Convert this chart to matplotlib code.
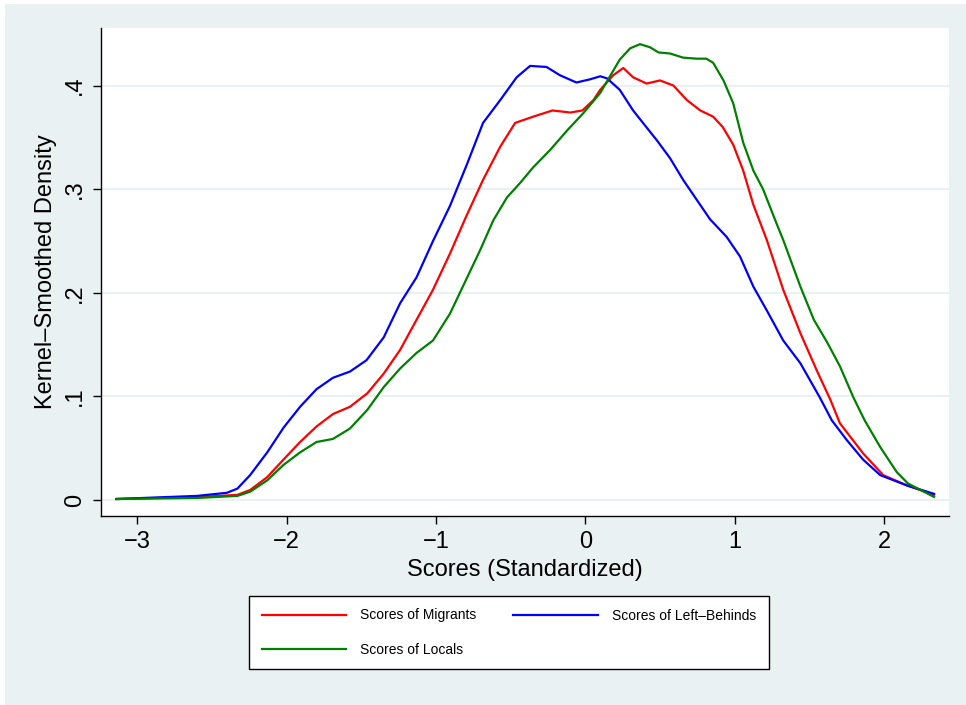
import matplotlib.pyplot as plt
from matplotlib.patches import Rectangle

# values
mig_x = [-3.14, -2.58, -2.33, -2.244, -2.131, -2.024, -1.91, -1.80, -1.69, -1.576, -1.46, -1.35, -1.24,
         -1.13, -1.02, -0.906, -0.80, -0.685, -0.57, -0.47, -0.35, -0.22, -0.10, -0.02, 0.054, 0.10,
         0.187, 0.254, 0.32, 0.41, 0.50, 0.59, 0.68, 0.77, 0.856, 0.92, 0.99, 1.057, 1.125, 1.215,
         1.325, 1.44, 1.55, 1.64, 1.705, 1.86, 1.995, 2.155, 2.335]
mig_y = [0.001, 0.003, 0.005, 0.0097, 0.022, 0.0386, 0.056, 0.071, 0.083, 0.090, 0.103, 0.122, 0.145,
         0.174, 0.203, 0.238, 0.273, 0.309, 0.341, 0.364, 0.370, 0.376, 0.374, 0.376, 0.386, 0.396,
         0.410, 0.417, 0.408, 0.402, 0.405, 0.400, 0.386, 0.376, 0.370, 0.360, 0.343, 0.318, 0.285, 0.251,
         0.203, 0.161, 0.125, 0.097, 0.074, 0.045, 0.024, 0.014, 0.005]

left_x = [-3.14, -2.6, -2.40, -2.33, -2.245, -2.13, -2.02, -1.91, -1.80, -1.69, -1.576, -1.465, -1.35,
          -1.24, -1.13, -1.02, -0.906, -0.79, -0.685, -0.57, -0.46, -0.37, -0.26, -0.17, -0.06, 0.03,
          0.10, 0.145, 0.23, 0.32, 0.386, 0.48, 0.567, 0.655, 0.745, 0.835, 0.946, 1.036, 1.125, 1.215,
          1.325, 1.44, 1.57, 1.65, 1.75, 1.86, 1.975, 2.155, 2.335]
left_y = [0.001, 0.004, 0.007, 0.011, 0.024, 0.046, 0.070, 0.090, 0.107, 0.118, 0.124, 0.135, 0.157,
          0.190, 0.215, 0.250, 0.284, 0.325, 0.364, 0.386, 0.408, 0.419, 0.418, 0.410, 0.403, 0.406,
          0.409, 0.407, 0.396, 0.376, 0.364, 0.347, 0.330, 0.309, 0.290, 0.271, 0.254, 0.235, 0.206, 0.183,
          0.154, 0.132, 0.099, 0.077, 0.058, 0.039, 0.024, 0.014, 0.006]

loc_x = [-3.14, -2.6, -2.33, -2.245, -2.13, -2.02, -1.91, -1.80, -1.69, -1.576, -1.46, -1.35, -1.24,
         -1.13, -1.02, -0.906, -0.705, -0.616, -0.525, -0.437, -0.35, -0.235, -0.12, -0.01, 0.10, 0.165,
         0.23, 0.30, 0.366, 0.433, 0.49, 0.567, 0.655, 0.745, 0.81, 0.856, 0.925, 0.99, 1.057, 1.125,
         1.19, 1.28, 1.325, 1.44, 1.53, 1.62, 1.705, 1.795, 1.87, 1.975, 2.085, 2.16, 2.335]
loc_y = [0.001, 0.002, 0.004, 0.008, 0.019, 0.034, 0.046, 0.056, 0.059, 0.069, 0.087, 0.109, 0.127,
         0.142, 0.154, 0.180, 0.241, 0.270, 0.292, 0.306, 0.321, 0.338, 0.357, 0.374, 0.393, 0.409,
         0.425, 0.436, 0.440, 0.437, 0.432, 0.431, 0.427, 0.426, 0.426, 0.422, 0.405, 0.383, 0.345, 0.318,
         0.300, 0.267, 0.251, 0.206, 0.174, 0.152, 0.129, 0.099, 0.077, 0.051, 0.027, 0.016, 0.003]

xticks = [-3, -2, -1, 0, 1, 2]
yticks = [0, 0.1, 0.2, 0.3, 0.4]
ytick_labels = ['0', '.1', '.2', '.3', '.4']

plt.rcParams['font.family'] = ['Liberation Sans', 'DejaVu Sans']

fig = plt.figure(figsize=(9.66, 7.05), dpi=100, facecolor='white')
bg = '#EAF1F3'
fig.patches.append(Rectangle((5 / 966, 0), 1, 701 / 705, transform=fig.transFigure,
                             facecolor=bg, edgecolor='none', zorder=-10))

ax = fig.add_axes([101 / 966, 189 / 705, 848 / 966, 488 / 705])
ax.set_facecolor('white')

ax.plot(mig_x, mig_y, color='#FF0000', lw=1.6, label='Scores of Migrants')
ax.plot(left_x, left_y, color='#0000FF', lw=1.6, label='Scores of Left\u2013Behinds')
ax.plot(loc_x, loc_y, color='#008000', lw=1.6, label='Scores of Locals')

ax.set_xlim(-3.243, 2.435)
ax.set_ylim(-0.0154, 0.4556)
ax.set_xticks(xticks)
ax.set_yticks(yticks)
ax.set_yticklabels(ytick_labels, rotation=90, va='center')
for t in yticks:
    ax.axhline(t, color=bg, lw=1.5, zorder=0)

for s in ['top', 'right']:
    ax.spines[s].set_visible(False)
for s in ['left', 'bottom']:
    ax.spines[s].set_linewidth(1.0)
ax.tick_params(axis='both', direction='out', length=6, width=1.0, labelsize=17, pad=5)

ax.set_xlabel('Scores (Standardized)', fontsize=17, labelpad=4)
ax.set_ylabel('Kernel\u2013Smoothed Density', fontsize=17, labelpad=5)

# keep the Stata order: Migrants, Left-Behinds in row 1, Locals in row 2
handles, labels = ax.get_legend_handles_labels()
order = [0, 2, 1]
leg = fig.legend([handles[i] for i in order], [labels[i] for i in order],
                 loc='upper left', bbox_to_anchor=(249 / 966, 1 - 596 / 705), ncol=2,
                 fontsize=10, handlelength=6.1, handletextpad=1.0, columnspacing=2.65,
                 borderpad=0.9, labelspacing=1.45, borderaxespad=0, frameon=True,
                 fancybox=False, edgecolor='black', framealpha=1)
leg.get_frame().set_linewidth(1.0)

fig.savefig('out.png', dpi=100, facecolor=fig.get_facecolor())
